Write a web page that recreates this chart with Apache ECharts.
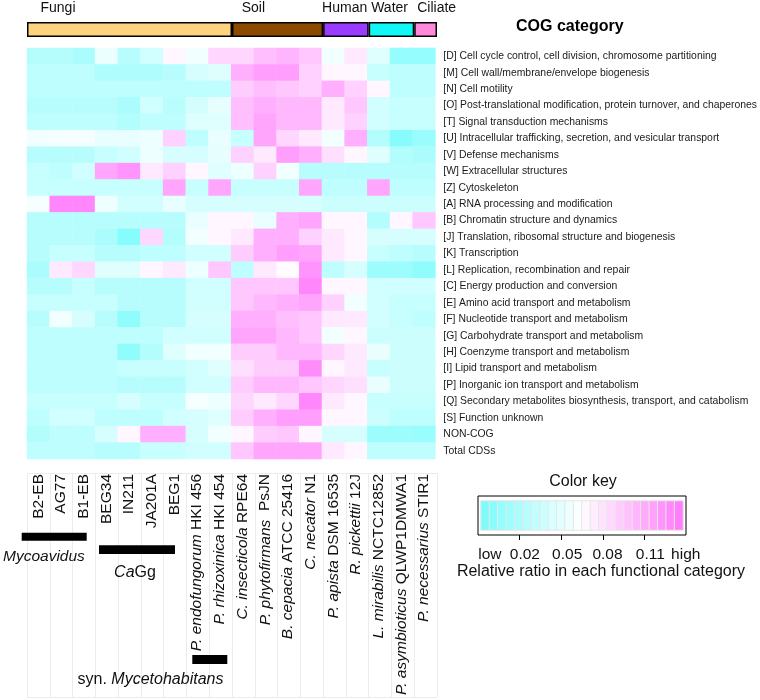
<!DOCTYPE html>
<html><head><meta charset="utf-8">
<script src="https://cdn.jsdelivr.net/npm/echarts@6/dist/echarts.min.js"></script>
<style>html,body{margin:0;padding:0;background:#fff}#c{width:760px;height:700px}</style>
</head><body><div id="c"></div>
<script>
// ---- data ----
const orgItalic = ['', '', '', '', '', '', '', 'P. endofungorum', 'P. rhizoxinica', 'C. insecticola', 'P. phytofirmans', 'B. cepacia', 'C. necator', 'P. apista', 'R. pickettii', 'L. mirabilis', 'P. asymbioticus', 'P. necessarius'];
const orgPlain = ['B2-EB', 'AG77', 'B1-EB', 'BEG34', 'IN211', 'JA201A', 'BEG1', 'HKI 456', 'HKI 454', 'RPE64', ' PsJN', 'ATCC 25416', 'N1', 'DSM 16535', '12J', 'NCTC12852', 'QLWP1DMWA1', 'STIR1'];
const organisms = orgPlain.map((p, i) => (orgItalic[i] ? orgItalic[i] + ' ' : '') + p);

const cogCategories = [
  '[D] Cell cycle control, cell division, chromosome partitioning',
  '[M] Cell wall/membrane/envelope biogenesis',
  '[N] Cell motility',
  '[O] Post-translational modification, protein turnover, and chaperones',
  '[T] Signal transduction mechanisms',
  '[U] Intracellular trafficking, secretion, and vesicular transport',
  '[V] Defense mechanisms',
  '[W] Extracellular structures',
  '[Z] Cytoskeleton',
  '[A] RNA processing and modification',
  '[B] Chromatin structure and dynamics',
  '[J] Translation, ribosomal structure and biogenesis',
  '[K] Transcription',
  '[L] Replication, recombination and repair',
  '[C] Energy production and conversion',
  '[E] Amino acid transport and metabolism',
  '[F] Nucleotide transport and metabolism',
  '[G] Carbohydrate transport and metabolism',
  '[H] Coenzyme transport and metabolism',
  '[I] Lipid transport and metabolism',
  '[P] Inorganic ion transport and metabolism',
  '[Q] Secondary metabolites biosynthesis, transport, and catabolism',
  '[S] Function unknown',
  'NON-COG',
  'Total CDSs'
];

// relative ratio per category (rows) and organism (columns)
const ratioD = [0.025,0.025,0.02,0.055,0.027,0.04,0.07,0.058,0.087,0.087,0.1,0.105,0.095,0.058,0.077,0.048,0.008,0.008];
const ratioM = [0.03,0.03,0.03,0.022,0.022,0.022,0.027,0.043,0.047,0.108,0.117,0.117,0.09,0.07,0.07,0.035,0.03,0.03];
const ratioN = [0.03,0.03,0.03,0.03,0.03,0.03,0.03,0.03,0.03,0.092,0.1,0.095,0.09,0.108,0.09,0.07,0.03,0.03];
const ratioO = [0.027,0.027,0.027,0.027,0.02,0.04,0.028,0.042,0.052,0.1,0.108,0.104,0.104,0.077,0.095,0.04,0.035,0.035];
const ratioT = [0.03,0.03,0.03,0.03,0.024,0.03,0.03,0.048,0.048,0.1,0.113,0.104,0.104,0.077,0.09,0.04,0.035,0.035];
const ratioU = [0.058,0.06,0.06,0.053,0.053,0.056,0.09,0.03,0.053,0.035,0.113,0.087,0.077,0.058,0.108,0.024,0.0,0.01];
const ratioV = [0.027,0.027,0.027,0.035,0.04,0.056,0.043,0.043,0.052,0.09,0.077,0.117,0.108,0.082,0.07,0.048,0.024,0.02];
const ratioW = [0.035,0.03,0.04,0.113,0.122,0.077,0.09,0.07,0.048,0.056,0.09,0.058,0.027,0.027,0.027,0.027,0.027,0.027];
const ratioZ = [0.035,0.035,0.035,0.035,0.035,0.035,0.113,0.035,0.113,0.035,0.035,0.035,0.113,0.03,0.03,0.113,0.03,0.03];
const ratioA = [0.06,0.13,0.13,0.056,0.04,0.04,0.053,0.043,0.043,0.043,0.043,0.043,0.043,0.038,0.038,0.038,0.038,0.038];
const ratioB = [0.027,0.027,0.027,0.027,0.027,0.027,0.027,0.053,0.07,0.07,0.053,0.108,0.113,0.07,0.07,0.024,0.07,0.095];
const ratioJ = [0.027,0.027,0.027,0.02,0.0,0.087,0.024,0.058,0.07,0.077,0.108,0.108,0.09,0.077,0.07,0.043,0.043,0.043];
const ratioK = [0.027,0.035,0.035,0.027,0.027,0.03,0.03,0.04,0.04,0.092,0.108,0.117,0.113,0.077,0.07,0.035,0.03,0.027];
const ratioL = [0.02,0.077,0.087,0.048,0.048,0.07,0.077,0.056,0.095,0.03,0.077,0.067,0.122,0.03,0.043,0.012,0.012,0.005];
const ratioC = [0.027,0.027,0.035,0.027,0.027,0.027,0.027,0.04,0.04,0.095,0.095,0.095,0.13,0.07,0.07,0.04,0.04,0.04];
const ratioE = [0.035,0.035,0.035,0.035,0.027,0.027,0.027,0.04,0.04,0.095,0.104,0.108,0.113,0.09,0.058,0.04,0.035,0.035];
const ratioF = [0.027,0.058,0.043,0.027,0.005,0.027,0.027,0.043,0.043,0.108,0.108,0.1,0.095,0.077,0.077,0.04,0.035,0.03];
const ratioG = [0.03,0.03,0.03,0.03,0.03,0.03,0.04,0.04,0.04,0.113,0.113,0.104,0.095,0.058,0.07,0.038,0.038,0.038];
const ratioH = [0.03,0.03,0.03,0.03,0.005,0.024,0.048,0.058,0.058,0.092,0.092,0.104,0.104,0.087,0.077,0.053,0.038,0.038];
const ratioI = [0.03,0.03,0.03,0.03,0.035,0.035,0.035,0.04,0.048,0.082,0.092,0.092,0.127,0.07,0.077,0.035,0.038,0.038];
const ratioP = [0.03,0.03,0.03,0.03,0.027,0.027,0.027,0.04,0.04,0.092,0.104,0.104,0.095,0.087,0.082,0.053,0.038,0.038];
const ratioQ = [0.035,0.035,0.035,0.035,0.043,0.035,0.035,0.06,0.056,0.087,0.077,0.087,0.13,0.077,0.07,0.035,0.035,0.035];
const ratioS = [0.03,0.04,0.04,0.03,0.03,0.03,0.04,0.043,0.048,0.092,0.108,0.117,0.117,0.07,0.07,0.038,0.03,0.03];
const ratioNonCog = [0.024,0.03,0.03,0.043,0.07,0.108,0.108,0.043,0.058,0.07,0.092,0.095,0.07,0.043,0.043,0.012,0.012,0.01];
const ratioTotal = [0.03,0.03,0.03,0.027,0.027,0.035,0.035,0.04,0.04,0.095,0.113,0.113,0.113,0.077,0.07,0.03,0.03,0.03];
const ratioRows = [ratioD, ratioM, ratioN, ratioO, ratioT, ratioU, ratioV, ratioW, ratioZ, ratioA, ratioB, ratioJ, ratioK, ratioL, ratioC, ratioE, ratioF, ratioG, ratioH, ratioI, ratioP, ratioQ, ratioS, ratioNonCog, ratioTotal];

const envGroups = ['Fungi', 'Soil', 'Human', 'Water', 'Ciliate'];
const envCounts = [9, 4, 2, 2, 1];

const keyBinValues = [-0.0046,0.0015,0.0075,0.0136,0.0196,0.0257,0.0317,0.0378,0.0438,0.0499,0.0559,0.0620,0.0680,0.0741,0.0801,0.0862,0.0922,0.0983,0.1043,0.1104,0.1164,0.1225,0.1285,0.1346];
const keyTickValues = [0.02, 0.05, 0.08, 0.11];
const keyLabelValues = [-0.0014, 0.0238, 0.0543, 0.0834, 0.1143, 0.1398];
const keyLabelTexts = ['low', '0.02', '0.05', '0.08', '0.11', 'high'];

// ---- styles ----
const FONT = "'Liberation Sans', Arial, Helvetica, sans-serif";
const envColors = ['#FDD37F', '#8C4A00', '#9A3CFF', '#12F6F6', '#FF8ADB'];
const envLabelDx = [13.5, 9.7, -1, 2.5, 3];

const heatData = [];
ratioRows.forEach((row, r) => row.forEach((v, c) => heatData.push([c, r, v])));
const keyData = keyBinValues.map((v, i) => [i, 0, v]);

const envSeries = envGroups.map((g, i) => ({
  type: 'bar', name: g, stack: 'env', xAxisIndex: 2, yAxisIndex: 2,
  data: [envCounts[i]], barWidth: '100%', silent: true,
  itemStyle: { color: envColors[i], borderColor: '#000', borderWidth: 1.5 },
  label: { show: true, position: [envLabelDx[i], -13.5], formatter: g, color: '#111',
           fontSize: 14, fontFamily: FONT, align: 'left', verticalAlign: 'middle' }
}));

const chart = echarts.init(document.getElementById('c'), null, { renderer: 'canvas' });
chart.setOption({
  animation: false,
  backgroundColor: '#fff',
  textStyle: { fontFamily: FONT },
  grid: [
    { left: 27, top: 48, width: 410, height: 411 },
    { left: 27, top: 473, width: 410, height: 224 },
    { left: 27, top: 22, width: 410, height: 15 },
    { left: 481, top: 501, width: 202, height: 29 },
    { left: 478, top: 496, width: 208, height: 39, show: true, borderColor: '#000', borderWidth: 1, backgroundColor: 'transparent' }
  ],
  xAxis: [
    { type: 'category', gridIndex: 0, data: organisms, position: 'bottom',
      axisLine: { show: false }, axisTick: { show: false }, splitLine: { show: false },
      axisLabel: { rotate: 90, margin: 15, interval: 0, fontSize: 15.5, color: '#111', fontFamily: FONT,
        formatter: (v, i) => orgItalic[i] ? '{i|' + orgItalic[i] + '} ' + orgPlain[i] : orgPlain[i],
        rich: { i: { fontStyle: 'italic', fontSize: 15.5, color: '#111', fontFamily: FONT } } } },
    { type: 'category', gridIndex: 1, data: organisms, z: 0,
      axisLine: { show: false }, axisTick: { show: false }, axisLabel: { show: false },
      splitLine: { show: true, interval: 0, lineStyle: { color: '#ececec', width: 1 } } },
    { type: 'value', gridIndex: 2, min: 0, max: 18, show: false },
    { type: 'category', gridIndex: 3, data: keyBinValues.map((v, i) => String(i)), show: false },
    { type: 'value', gridIndex: 4, min: -0.01, max: 0.14, position: 'bottom',
      axisLine: { show: false }, splitLine: { show: false },
      axisTick: { show: true, length: 5, lineStyle: { color: '#000', width: 1 }, customValues: keyTickValues },
      axisLabel: { show: true, margin: 12, fontSize: 15.5, color: '#111', fontFamily: FONT,
        customValues: keyLabelValues, showMinLabel: true, showMaxLabel: true,
        formatter: (v) => {
          let best = 0;
          keyLabelValues.forEach((kv, i) => { if (Math.abs(kv - v) < Math.abs(keyLabelValues[best] - v)) best = i; });
          return keyLabelTexts[best];
        } } }
  ],
  yAxis: [
    { type: 'category', gridIndex: 0, data: cogCategories, inverse: true, position: 'right',
      axisLine: { show: false }, axisTick: { show: false }, splitLine: { show: false },
      axisLabel: { margin: 8, fontSize: 10.4, color: '#1a1a1a', fontFamily: FONT, interval: 0 } },
    { type: 'value', gridIndex: 1, min: 0, max: 1, interval: 1, z: 0,
      axisLine: { show: false }, axisTick: { show: false }, axisLabel: { show: false },
      splitLine: { show: true, lineStyle: { color: '#ececec', width: 1 } } },
    { type: 'category', gridIndex: 2, data: ['env'], show: false },
    { type: 'category', gridIndex: 3, data: ['key'], show: false },
    { type: 'value', gridIndex: 4, min: 0, max: 1, show: false }
  ],
  visualMap: {
    type: 'continuous', show: false, min: -0.005, max: 0.135,
    seriesIndex: [0, 6],
    inRange: { color: ['#7dfcfc', '#ffffff', '#ff7dfb'] }
  },
  series: [
    { type: 'heatmap', xAxisIndex: 0, yAxisIndex: 0, data: heatData, silent: true,
      itemStyle: { borderWidth: 0 }, emphasis: { disabled: true } },
    ...envSeries,
    { type: 'heatmap', xAxisIndex: 3, yAxisIndex: 3, data: keyData, silent: true,
      itemStyle: { borderColor: '#e6e6e6', borderWidth: 1 }, emphasis: { disabled: true } }
  ],
  graphic: [
    { type: 'text', z: 100, left: 516, top: 19, style: { text: 'COG category', font: 'bold 16px ' + FONT, fill: '#000' } },
    { type: 'text', z: 100, x: 583, y: 482, style: { text: 'Color key', font: '16px ' + FONT, fill: '#111', align: 'center', verticalAlign: 'middle' } },
    { type: 'text', z: 100, x: 601, y: 572, style: { text: 'Relative ratio in each functional category', font: '16px ' + FONT, fill: '#111', align: 'center', verticalAlign: 'middle' } },
    { type: 'rect', z: 100, shape: { x: 21.7, y: 532.7, width: 65, height: 8 }, style: { fill: '#000' } },
    { type: 'rect', z: 100, shape: { x: 99, y: 545.3, width: 76, height: 8.7 }, style: { fill: '#000' } },
    { type: 'rect', z: 100, shape: { x: 192.3, y: 655, width: 35, height: 9 }, style: { fill: '#000' } },
    { type: 'text', z: 100, x: 3, y: 557, style: { text: 'Mycoavidus', font: 'italic 15.5px ' + FONT, fill: '#111', align: 'left', verticalAlign: 'middle' } },
    { type: 'text', z: 100, x: 135, y: 573, style: { text: '{i|Ca}{n|Gg}', align: 'center', verticalAlign: 'middle',
        rich: { i: { font: 'italic 16px ' + FONT, fill: '#111' }, n: { font: '16px ' + FONT, fill: '#111' } } } },
    { type: 'text', z: 100, x: 150.5, y: 680, style: { text: '{n|syn. }{i|Mycetohabitans}', align: 'center', verticalAlign: 'middle',
        rich: { i: { font: 'italic 16px ' + FONT, fill: '#111' }, n: { font: '16px ' + FONT, fill: '#111' } } } }
  ]
});
</script>
</body></html>
